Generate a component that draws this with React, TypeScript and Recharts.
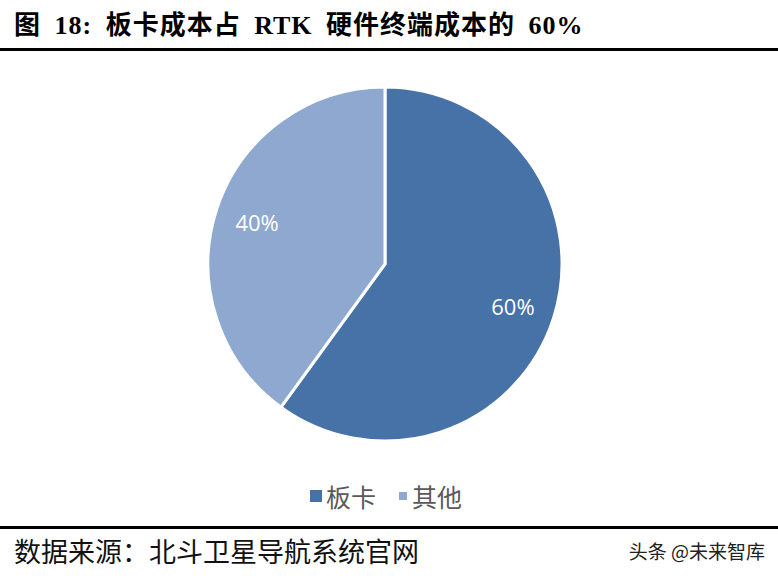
import { PieChart, Pie, Cell } from "recharts";

const categories = ["板卡", "其他"];
const shares = [60, 40];
const colors = ["#4672A8", "#8EA8CF"];

const data = categories.map((name, i) => ({ name, value: shares[i] }));

const RAD = Math.PI / 180;

function renderLabel(props: any) {
  const { cx, cy, midAngle, outerRadius, value } = props;
  const r = outerRadius * 0.76;
  const x = cx + r * Math.cos(-midAngle * RAD);
  const y = cy + r * Math.sin(-midAngle * RAD);
  return (
    <text
      x={x}
      y={y}
      fill="#fff"
      textAnchor="middle"
      dominantBaseline="central"
      fontSize={22}
      fontFamily="'Open Sans', 'Noto Sans', sans-serif"
    >
      {value}%
    </text>
  );
}

// legend squares: the second one is drawn smaller in the original
const legendSquare = [12, 8];

export default function App() {
  return (
    <div
      style={{
        position: "absolute",
        left: 0,
        top: 0,
        width: 778,
        height: 580,
        background: "#fff",
        overflow: "hidden",
      }}
    >
      <div
        style={{
          position: "absolute",
          left: 14,
          top: 11,
          lineHeight: "30px",
          fontFamily: "'Liberation Serif', 'Noto Sans CJK SC', serif",
          fontWeight: "bold",
          fontSize: 26,
          letterSpacing: 1,
          wordSpacing: 6,
          color: "#000",
          whiteSpace: "nowrap",
        }}
      >
        图 18: 板卡成本占 RTK 硬件终端成本的 60%
      </div>
      <div style={{ position: "absolute", left: 0, top: 48, width: 778, height: 3, background: "#000" }} />

      <div style={{ position: "absolute", left: 0, top: 0 }}>
        <PieChart width={778} height={470} margin={{ top: 0, right: 0, bottom: 0, left: 0 }}>
          <Pie
            data={data}
            dataKey="value"
            nameKey="name"
            cx={385}
            cy={264}
            outerRadius={177}
            startAngle={90}
            endAngle={-270}
            stroke="#fff"
            strokeWidth={3}
            label={renderLabel}
            labelLine={false}
            isAnimationActive={false}
          >
            {data.map((d, i) => (
              <Cell key={d.name} fill={colors[i]} />
            ))}
          </Pie>
        </PieChart>
      </div>

      <div
        style={{
          position: "absolute",
          left: 310,
          top: 478,
          height: 36,
          display: "flex",
          alignItems: "center",
          fontFamily: "'Noto Sans CJK SC', sans-serif",
          fontSize: 25,
          color: "#595959",
          whiteSpace: "nowrap",
        }}
      >
        {data.map((d, i) => (
          <div key={d.name} style={{ display: "flex", alignItems: "center", marginRight: i === 0 ? 23 : 0 }}>
            <span
              style={{
                display: "inline-block",
                width: legendSquare[i],
                height: legendSquare[i],
                background: colors[i],
                marginRight: i === 0 ? 4 : 5,
              }}
            />
            <span style={{ lineHeight: "36px" }}>{d.name}</span>
          </div>
        ))}
      </div>

      <div style={{ position: "absolute", left: 0, top: 526, width: 778, height: 3, background: "#000" }} />
      <div
        style={{
          position: "absolute",
          left: 14,
          top: 536,
          lineHeight: "30px",
          fontFamily: "'Noto Sans CJK SC', serif",
          fontSize: 27,
          color: "#111",
          whiteSpace: "nowrap",
        }}
      >
        数据来源：北斗卫星导航系统官网
      </div>
      <div
        style={{
          position: "absolute",
          right: 13,
          top: 539,
          lineHeight: "24px",
          fontFamily: "'Noto Sans CJK SC', sans-serif",
          fontSize: 19,
          color: "#222",
          whiteSpace: "nowrap",
        }}
      >
        头条 @未来智库
      </div>
    </div>
  );
}
